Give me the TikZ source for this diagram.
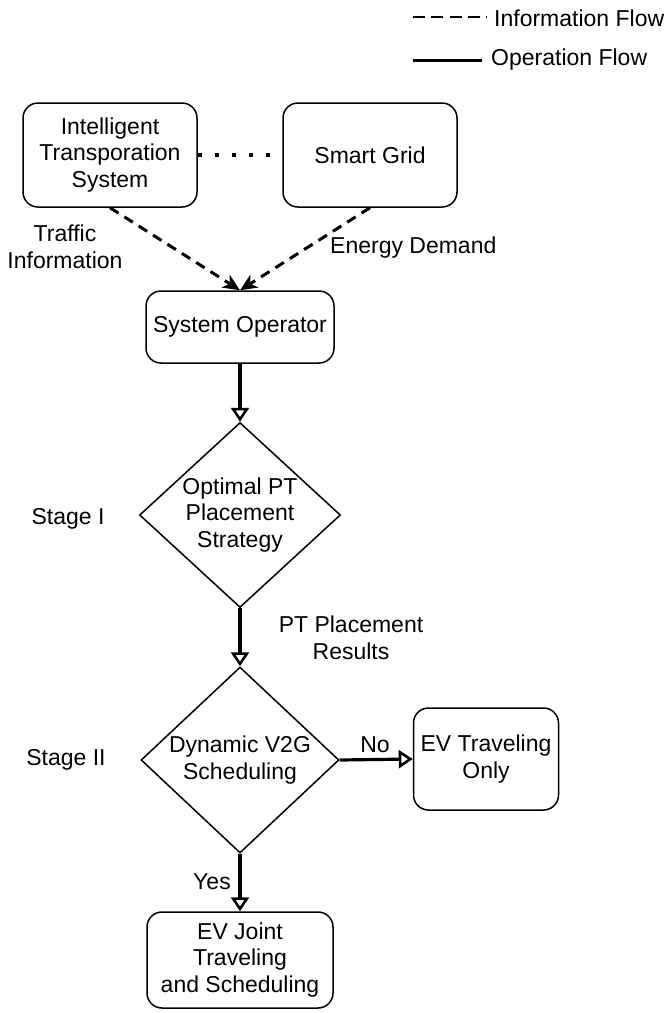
\documentclass[tikz,border=0pt]{standalone}
\usepackage{fontspec}
\setmainfont{Liberation Sans}
\usetikzlibrary{arrows.meta,shapes.geometric}
\begin{document}
\begin{tikzpicture}[x=1pt,y=-1pt,
  every node/.style={font=\fontsize{23}{26.5}\selectfont, align=center},
  roundbox/.style={draw, line width=1.5pt, rounded corners=15pt, inner sep=0pt},
  decision/.style={draw, diamond, line width=1.5pt, inner sep=0pt},
  opflow/.style={line width=3.2pt, -{Triangle[open, length=14pt, width=18pt, line width=2.6pt]}},
  infoflow/.style={line width=3pt, dash pattern=on 10pt off 7pt, -{Stealth[length=17pt, width=15pt, inset=5pt]}},
  lbl/.style={inner sep=0pt}
]
\useasboundingbox (0,0) rectangle (665,1013);

% legend
\coordinate (ia) at (413,17);
\coordinate (ib) at (487,17);
\coordinate (oa) at (413,60);
\coordinate (ob) at (482,60);
\draw[line width=2.6pt, dash pattern=on 12pt off 6.3pt] (ia) -- (ib);
\draw[line width=3pt] (oa) -- (ob);
\node[lbl, anchor=west] (il) at (494,18) {Information Flow};
\node[lbl, anchor=west] (ol) at (491,60) {Operation Flow};

% top-level systems
\node[roundbox, minimum width=174pt, minimum height=104pt] (its) at (110,155)
  {Intelligent\\Transporation\\System};
\node[roundbox, minimum width=174pt, minimum height=104pt] (sg) at (370,155)
  {Smart Grid};
\draw[line width=4.5pt, dash pattern=on 4.5pt off 12.5pt] (its.east) -- (sg.west);

% operator
\node[roundbox, minimum width=188pt, minimum height=72pt] (so) at (240,327)
  {System Operator};
\draw[infoflow] (its.south) -- (so.north);
\draw[infoflow] (sg.south) -- (so.north);
\node[lbl] (ti) at (65,247) {Traffic\\Information};
\node[lbl, anchor=west] (ed) at (330,248) {Energy Demand};

% stage I
\node[decision, minimum width=201pt, minimum height=185pt, aspect=1.087] (d1) at (240,515)
  {Optimal PT\\Placement\\Strategy};
\node[lbl] (s1) at (68,519) {Stage I};
\draw[opflow] (so.south) -- (d1.north);

% stage II
\node[decision, minimum width=198pt, minimum height=186pt, aspect=1.065] (d2) at (240,760)
  {Dynamic V2G\\Scheduling};
\node[lbl] (s2) at (66,760) {Stage II};
\draw[opflow] (d1.south) -- (d2.north);
\node[lbl] (pr) at (351,638) {PT Placement\\Results};

% outcomes
\node[roundbox, minimum width=145pt, minimum height=102pt] (evo) at (486,759)
  {EV Traveling\\Only};
\draw[opflow] (d2.east) -- (evo.west);
\node[lbl] (no) at (375,745) {No};

\node[roundbox, minimum width=186pt, minimum height=96pt] (evj) at (240,960)
  {EV Joint\\Traveling\\and Scheduling};
\draw[opflow] (d2.south) -- (evj.north);
\node[lbl] (yes) at (212,882) {Yes};
\end{tikzpicture}
\end{document}
